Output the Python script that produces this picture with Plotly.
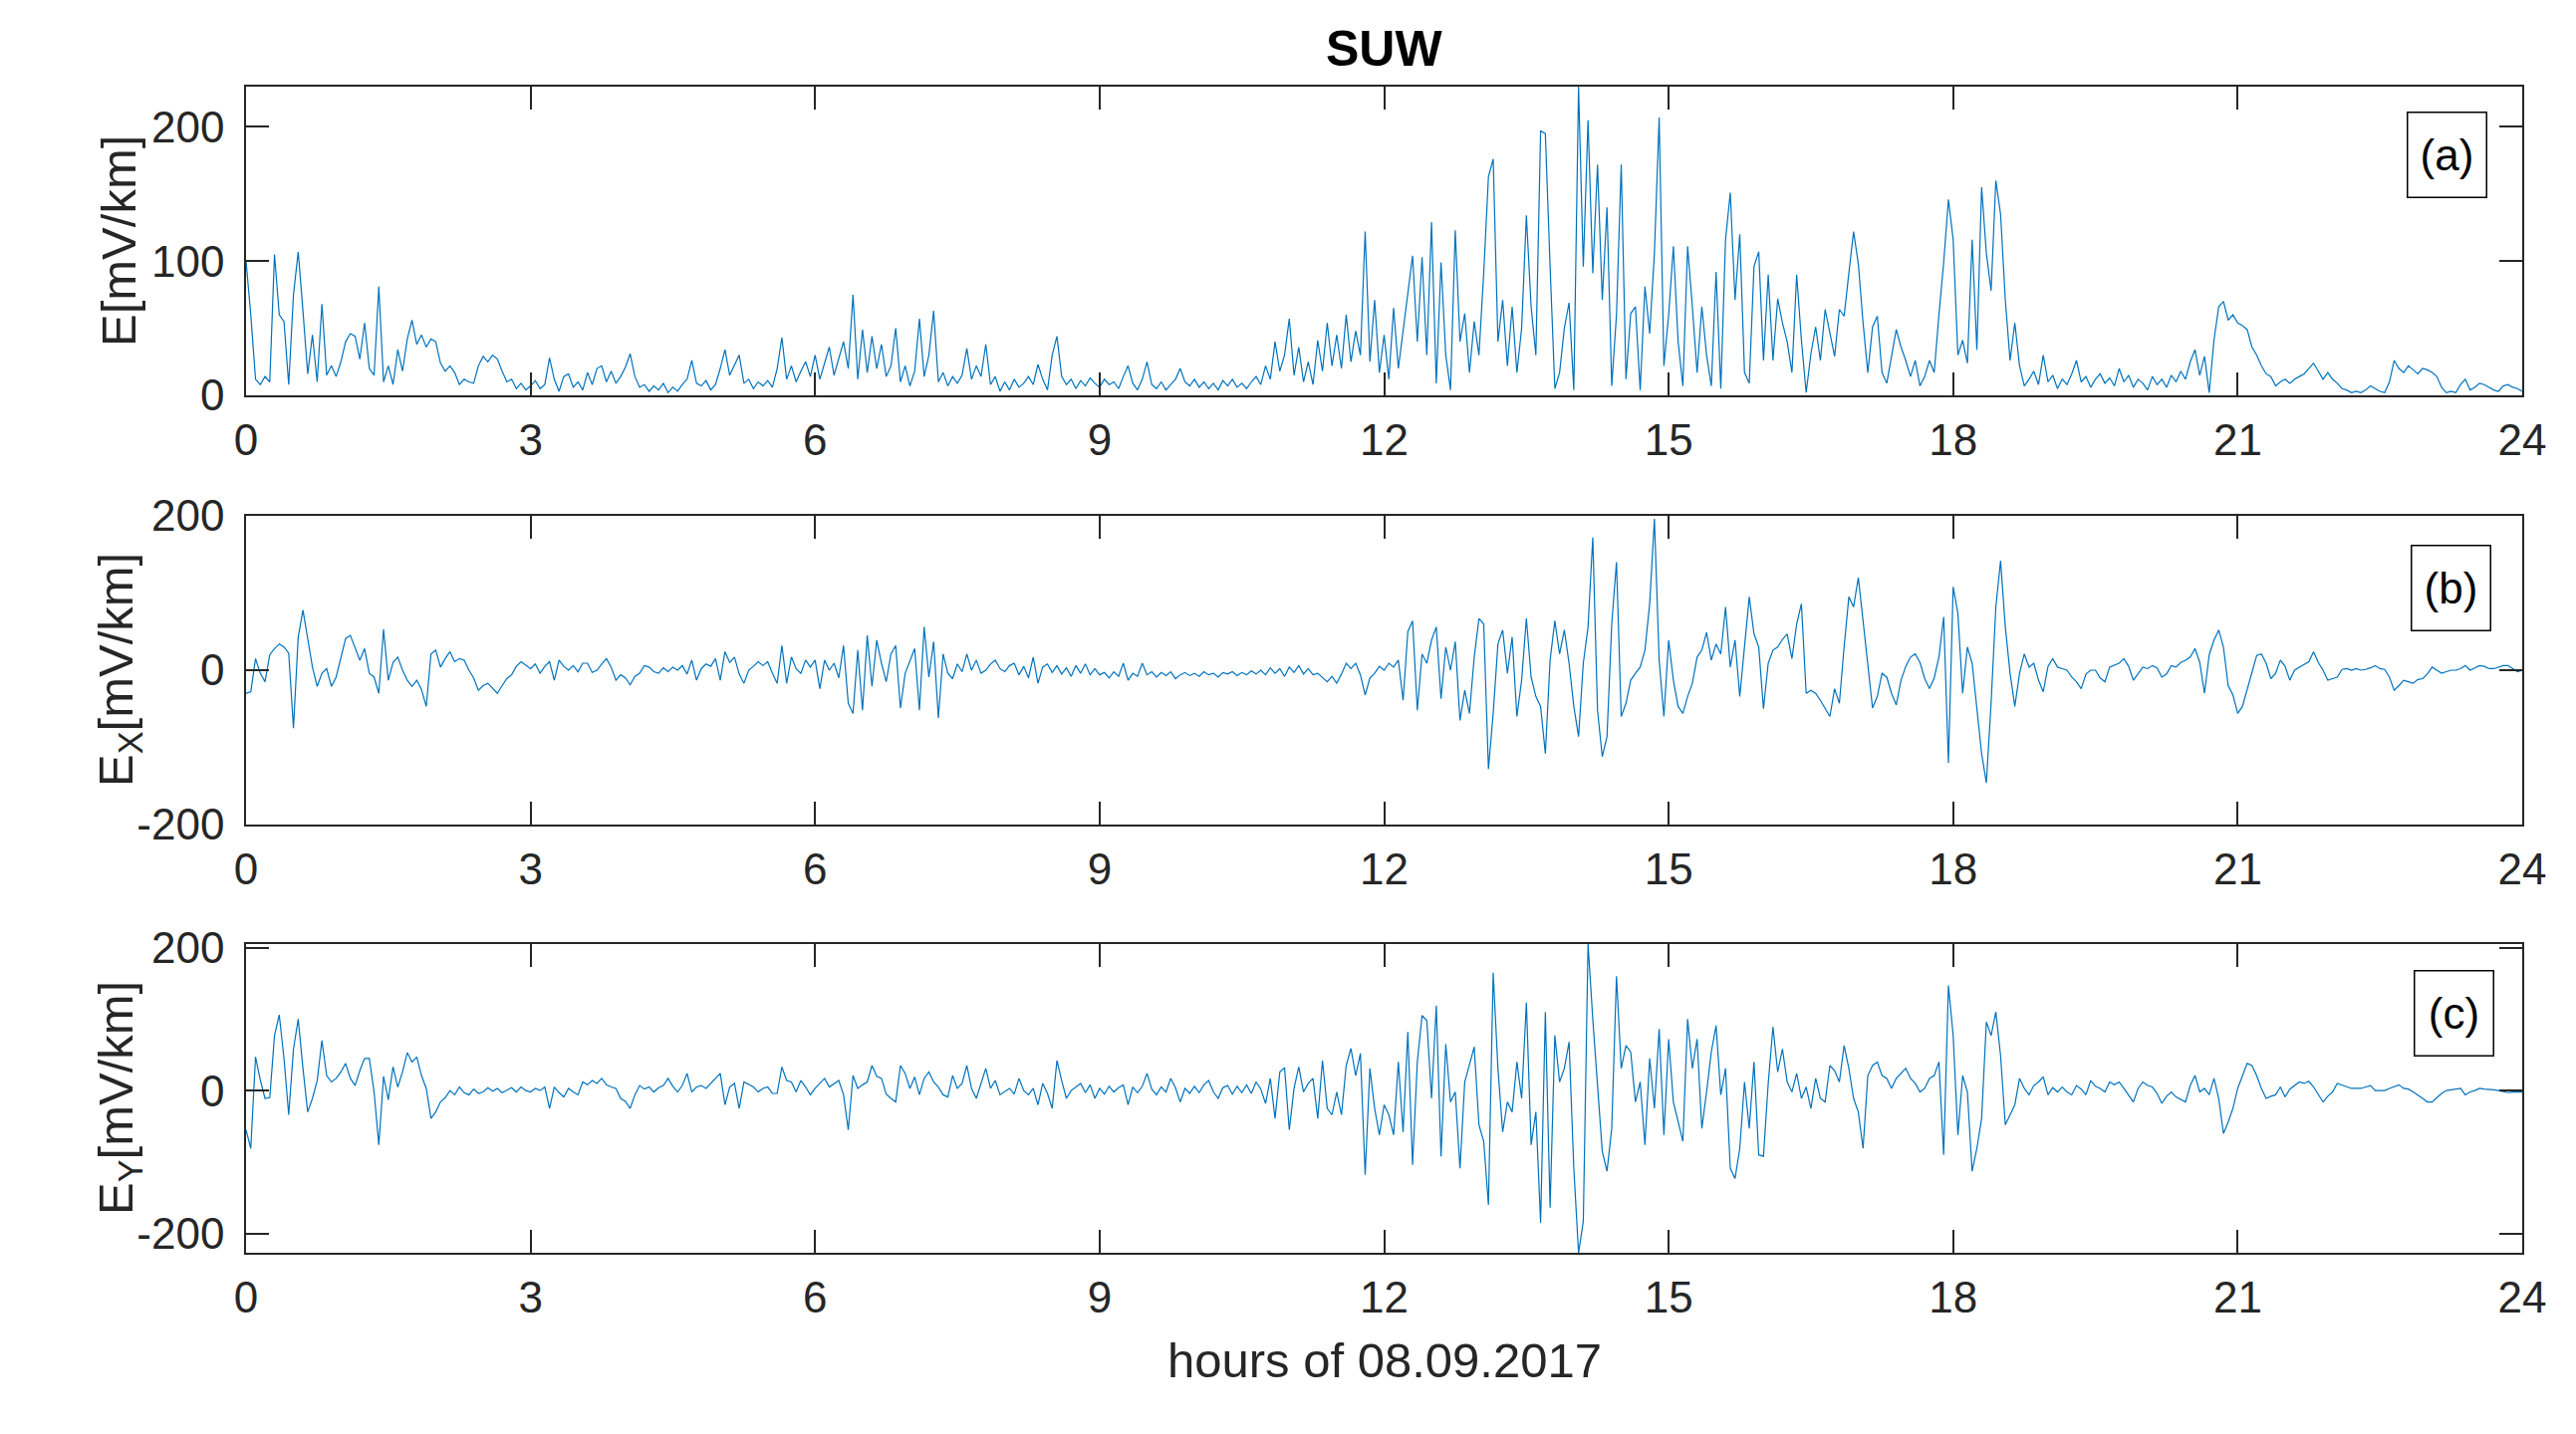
import plotly.graph_objects as go

# ---------------- data (0.05 h sampling) ----------------
hour_ticks = [0, 3, 6, 9, 12, 15, 18, 21, 24]
hour_tick_labels = ["0", "3", "6", "9", "12", "15", "18", "21", "24"]

E_total = [
    100, 60, 12, 8, 14, 10, 105, 60, 55, 8, 75, 107, 63, 16, 45, 10, 68, 15, 22, 14,
    25, 40, 46, 44, 27, 54, 20, 15, 81, 10, 22, 8, 34, 18, 42, 56, 38, 45, 36, 42,
    40, 24, 18, 22, 17, 8, 12, 10, 9, 22, 29, 25, 30, 27, 18, 10, 12, 5, 9, 4,
    7, 11, 5, 8, 28, 12, 3, 14, 16, 6, 10, 4, 17, 8, 20, 22, 10, 18, 9, 14,
    21, 31, 14, 6, 8, 3, 7, 4, 9, 2, 6, 3, 8, 12, 26, 9, 7, 11, 4, 8,
    20, 34, 15, 22, 30, 9, 12, 5, 10, 7, 11, 6, 20, 43, 12, 22, 10, 18, 25, 14,
    30, 12, 24, 36, 15, 28, 40, 20, 75, 12, 49, 17, 44, 20, 38, 14, 22, 50, 10, 22,
    7, 18, 57, 14, 30, 63, 10, 17, 7, 14, 9, 15, 35, 12, 22, 14, 38, 8, 14, 3,
    10, 4, 12, 6, 9, 14, 8, 23, 12, 4, 30, 44, 14, 8, 12, 5, 11, 7, 13, 9,
    6, 12, 8, 10, 5, 14, 22, 9, 4, 12, 25, 8, 5, 10, 4, 8, 12, 20, 10, 7,
    12, 6, 10, 5, 9, 4, 11, 7, 12, 6, 9, 5, 10, 14, 8, 22, 12, 40, 18, 30,
    57, 15, 36, 10, 25, 8, 41, 18, 54, 22, 45, 20, 60, 25, 48, 30, 122, 25, 71, 17,
    45, 12, 65, 20, 48, 80, 104, 40, 103, 30, 129, 9, 99, 30, 4, 123, 40, 61, 17, 55,
    30, 91, 163, 176, 40, 71, 22, 66, 17, 50, 134, 66, 30, 197, 195, 96, 5, 17, 50, 69,
    4, 230, 96, 205, 91, 172, 71, 140, 7, 60, 172, 12, 61, 66, 4, 81, 46, 106, 207, 22,
    60, 111, 40, 7, 111, 66, 17, 66, 30, 7, 92, 5, 116, 151, 71, 120, 17, 9, 96, 107,
    26, 90, 26, 72, 54, 40, 17, 90, 41, 2, 31, 51, 26, 64, 46, 29, 64, 59, 91, 122,
    98, 54, 17, 51, 59, 17, 9, 30, 49, 36, 26, 14, 26, 7, 14, 26, 17, 60, 99, 146,
    116, 30, 41, 24, 116, 34, 155, 106, 78, 160, 135, 71, 26, 54, 22, 7, 12, 18, 8, 30,
    10, 15, 5, 12, 8, 16, 26, 10, 14, 6, 12, 16, 9, 13, 7, 20, 10, 15, 6, 12,
    9, 4, 14, 8, 12, 6, 15, 10, 18, 12, 25, 34, 15, 29, 2, 41, 66, 70, 56, 60,
    54, 52, 49, 36, 30, 22, 16, 14, 7, 10, 12, 9, 12, 14, 16, 20, 24, 18, 12, 17,
    12, 9, 5, 4, 2, 3, 2, 4, 7, 5, 3, 2, 10, 26, 20, 17, 22, 19, 16, 20,
    19, 17, 14, 6, 2, 3, 2, 8, 12, 4, 6, 9, 8, 6, 4, 3, 7, 8, 6, 5,
    3,
]

E_x = [
    -30, -28, 15, -4, -15, 20, 28, 34, 30, 22, -75, 43, 78, 43, 4, -21, -4, 2, -21, -9,
    17, 41, 45, 30, 13, 28, -4, -9, -30, 53, -13, 10, 17, 0, -13, -21, -13, -25, -47, 21,
    26, 4, 15, 24, 11, 15, 13, 0, -10, -26, -20, -17, -24, -30, -20, -11, -6, 5, 11, 6,
    2, 8, -4, 5, 11, -13, 13, 5, 0, 6, -2, 9, 9, -3, 0, 8, 15, 4, -13, -6,
    -10, -19, -8, -4, 6, 4, -2, -4, 3, -2, 4, 0, 6, -5, 13, -13, 2, 8, 5, 15,
    -13, 24, 10, 17, -5, -17, 0, 5, 11, 6, 11, -4, -17, 32, -17, 17, 2, -4, 13, 4,
    13, -24, 13, 0, 9, -10, 32, -43, -56, 26, -52, 45, -21, 39, 9, -15, 21, 32, -49, -4,
    11, 28, -52, 56, -9, 37, -62, 21, -4, -11, 8, -2, 21, 0, 13, -4, 0, 8, 13, 2,
    -2, 6, 9, -6, 5, -10, 17, -17, 4, 8, -3, 6, -5, 3, -8, 6, -4, 8, -6, 2,
    -6, -3, -10, -2, -8, 9, -13, -4, -8, 9, -6, -2, -9, -3, -7, -2, -11, -6, -3, -7,
    -4, -8, -2, -6, -4, -9, -3, -5, -2, -7, -3, -6, -1, -5, 0, -6, 3, -4, 2, -8,
    4, -3, 6, -5, 2, -6, -4, -10, -15, -8, -17, -5, 9, 2, 9, -6, -32, -10, -4, 5,
    0, 9, 4, 13, -39, 50, 64, -52, 21, 9, 39, 56, -37, 30, 0, 37, -65, -26, -56, 17,
    67, 60, -128, -56, 34, 52, -4, 43, -60, -13, 67, -9, -34, -47, -108, 13, 64, 21, 52, 9,
    -47, -86, 9, 56, 172, -52, -112, -86, 60, 140, -60, -43, -13, -4, 4, 26, 86, 196, 13, -60,
    39, -13, -47, -56, -34, -17, 17, 26, 49, 13, 34, 21, 82, 4, 39, -34, 34, 95, 47, 30,
    -50, 9, 26, 30, 40, 47, 15, 60, 86, -30, -26, -30, -39, -50, -60, -24, -43, 30, 95, 82,
    120, 64, 4, -49, -34, -4, -9, -30, -45, -13, 5, 17, 21, 10, -11, -24, -10, 17, 69, -120,
    108, 73, -30, 30, 9, -47, -108, -146, -43, 82, 142, 56, -4, -47, -4, 21, 4, 9, -13, -28,
    5, 15, 4, 2, 0, -9, -15, -24, -5, 0, 0, -10, -15, 4, 6, 9, 15, 5, -13, -5,
    4, 2, 6, 3, -9, -5, 6, 4, 10, 13, 17, 28, 10, -30, 20, 39, 52, 30, -20, -32,
    -56, -47, -26, -5, 19, 21, 9, -11, -4, 13, 5, -13, 0, 4, 8, 11, 24, 10, 0, -13,
    -11, -9, 1, 2, 0, 2, 0, 1, 3, 6, 2, 1, -9, -26, -20, -13, -15, -17, -12, -11,
    -5, 4, 0, -4, -2, 0, 0, 2, 6, 0, 3, 6, 5, 2, 2, 4, 6, 6, 2, -2,
    0,
]

E_y = [
    -55, -81, 47, 15, -11, -10, 77, 106, 45, -34, 58, 100, 31, -30, -11, 14, 70, 21, 12, 17,
    26, 38, 17, 7, 28, 45, 45, -2, -76, 20, -13, 33, 5, 26, 53, 40, 47, 21, 3, -39,
    -30, -16, -10, 0, -6, 5, -3, -6, 2, -4, -2, 4, -1, 3, -3, 0, 4, -2, 5, 0,
    -2, 3, 0, 5, -25, 5, -3, -9, 3, -2, -6, 12, 8, 14, 10, 17, 8, 5, 3, -11,
    -15, -25, -6, 7, 2, 5, -2, 4, 7, 17, 6, -2, 7, 24, -2, 5, 7, 3, 10, 17,
    24, -20, 5, 10, -25, 12, 8, 5, -2, 3, 5, -4, -4, 33, 14, 12, -2, 14, 5, -6,
    3, 10, 17, 5, 10, 14, -6, -55, 21, 3, 8, 12, 35, 20, 17, -5, -11, -16, 35, 24,
    3, 19, -6, 17, 26, 12, 5, -6, -9, 21, 3, 10, 35, 3, -11, 10, 31, 3, 14, -6,
    -2, 3, -5, 17, 0, -6, 3, -20, 10, -4, -25, 42, 14, -11, 0, 5, 10, -3, 8, -11,
    3, -5, 6, -2, 4, 8, -20, 5, -3, 6, 24, 2, -6, 5, -2, 17, 4, -16, 3, -4,
    6, -3, 8, 14, -2, -11, 4, 7, -5, 6, -3, 8, -4, 12, 2, -18, 17, -39, 26, 32,
    -55, 3, 33, -2, 10, 17, -39, 42, -25, -34, -2, -34, 35, 59, 21, 52, -118, 31, -25, -62,
    -20, -34, -62, 40, -58, 82, -104, 40, 105, 98, -11, 119, -92, 65, -16, -2, -109, 12, 35, 61,
    -48, -71, -160, 165, 31, -58, -16, -30, 40, -11, 123, -76, -30, -185, 110, -164, 77, 12, 31, 68,
    -109, -227, -183, 205, 100, 7, -85, -113, -53, 160, 31, 63, 54, -16, 12, -76, 45, -25, 86, -62,
    72, -16, -44, -71, 100, 31, 72, -53, -2, 54, 91, -6, 31, -109, -123, -81, 12, -53, 40, -90,
    -92, 10, 89, 26, 58, 12, -2, 24, -11, 5, -25, 17, -11, -16, 35, 28, 12, 63, 31, -11,
    -30, -81, 21, 35, 40, 21, 17, 3, 17, 24, 31, 17, 10, -2, 3, 17, 21, 40, -90, 147,
    77, -62, 21, -2, -113, -81, -39, 96, 77, 110, 49, -48, -34, -20, 17, 3, -6, 7, 12, 19,
    -6, 4, -2, 5, -2, -6, 7, 2, -6, 14, 6, 3, -2, 12, 8, 12, 3, -6, -16, 3,
    12, 7, 5, -4, -18, -8, -2, -9, -12, -16, 7, 21, -2, 3, -6, 17, -11, -60, -44, -25,
    3, 21, 38, 35, 21, 3, -11, -8, -6, 5, -9, 2, 7, 12, 10, 13, 5, -6, -16, -8,
    -2, 10, 8, 5, 3, 3, 3, 5, 7, 0, 0, 0, 3, 5, 8, 3, 2, -2, -6, -11,
    -16, -16, -10, -4, 0, 1, 3, 3, -6, -2, 0, 3, 2, 2, 1, 0, -1, -3, -2, -2,
    -2,
]

panel_tags = ["(a)", "(b)", "(c)"]
y_labels = ["E[mV/km]", "E<sub>X</sub>[mV/km]", "E<sub>Y</sub>[mV/km]"]
y_ranges = [[0, 230], [-200, 200], [-227, 205]]
y_tickvals = [[0, 100, 200], [-200, 0, 200], [-200, 0, 200]]
y_ticktext = [["0", "100", "200"], ["-200", "0", "200"], ["-200", "0", "200"]]
title_text = "SUW"
x_label = "hours of 08.09.2017"

SAMPLE_STEP_H = 0.05
series = [E_total, E_x, E_y]
for s in series:
    assert len(s) == 481, len(s)
hours = [round(i * SAMPLE_STEP_H, 2) for i in range(len(E_total))]

# ---------------- layout geometry (page body adds an 8 px offset) ----------------
W, H = 2586, 1440
OFF = 8
X0, X1 = 247 - OFF, 2532 - OFF
panels_px = [(87 - OFF, 397 - OFF), (518 - OFF, 828 - OFF), (948 - OFF, 1258 - OFF)]
tag_centers = [(2456 - OFF, 156 - OFF), (2460 - OFF, 590 - OFF), (2463 - OFF, 1018 - OFF)]
CX = (X0 + X1) / 2
FONT = "Liberation Sans"
AX_COL = "#262626"

fig = go.Figure()
for i, vals in enumerate(series):
    sfx = "" if i == 0 else str(i + 1)
    fig.add_trace(go.Scatter(
        x=hours, y=vals, mode="lines",
        line=dict(color="#0072BD", width=1.2),
        xaxis="x" + sfx, yaxis="y" + sfx,
        showlegend=False, hoverinfo="skip",
    ))

common = dict(
    showline=True, linecolor=AX_COL, linewidth=1.5, mirror="ticks",
    ticks="inside", ticklen=23, tickwidth=1.5, tickcolor=AX_COL,
    showgrid=False, zeroline=False, automargin=False,
    tickfont=dict(family=FONT, size=44, color=AX_COL),
)

layout = dict(
    width=W, height=H, autosize=False,
    margin=dict(l=0, r=0, t=0, b=0, pad=0, autoexpand=False),
    paper_bgcolor="white", plot_bgcolor="white",
    showlegend=False,
)

annotations = []
for i in range(3):
    sfx = "" if i == 0 else str(i + 1)
    top, bot = panels_px[i]
    ydom = [1 - bot / H, 1 - top / H]
    layout["xaxis" + sfx] = dict(
        common, domain=[X0 / W, X1 / W], range=[0, 24],
        tickvals=hour_ticks, ticktext=hour_tick_labels,
        anchor="y" + sfx, ticklabelstandoff=5,
    )
    layout["yaxis" + sfx] = dict(
        common, domain=ydom, range=y_ranges[i],
        tickvals=y_tickvals[i], ticktext=y_ticktext[i],
        anchor="x" + sfx, ticklabelstandoff=11,
    )
    annotations.append(dict(
        text=y_labels[i], xref="paper", yref="paper",
        x=(119 - OFF) / W, y=1 - (top + bot) / 2 / H, xanchor="center", yanchor="middle",
        textangle=-90, showarrow=False,
        font=dict(family=FONT, size=49, color=AX_COL),
    ))
    cx, cy = tag_centers[i]
    annotations.append(dict(
        text=panel_tags[i], xref="paper", yref="paper",
        x=cx / W, y=1 - cy / H, xanchor="center", yanchor="middle",
        showarrow=False, width=78, height=84, borderpad=0,
        bordercolor="#000000", borderwidth=1.5, bgcolor="white",
        font=dict(family=FONT, size=44, color="#000000"),
    ))

annotations.append(dict(
    text="<b>" + title_text + "</b>", xref="paper", yref="paper",
    x=CX / W, y=1 - (49 - OFF) / H, xanchor="center", yanchor="middle",
    showarrow=False, font=dict(family=FONT, size=50, color="#000000"),
))
annotations.append(dict(
    text=x_label, xref="paper", yref="paper",
    x=CX / W, y=1 - (1366 - OFF) / H, xanchor="center", yanchor="middle",
    showarrow=False, font=dict(family=FONT, size=49, color=AX_COL),
))
layout["annotations"] = annotations

fig.update_layout(**layout)
fig.write_html("out.html")
